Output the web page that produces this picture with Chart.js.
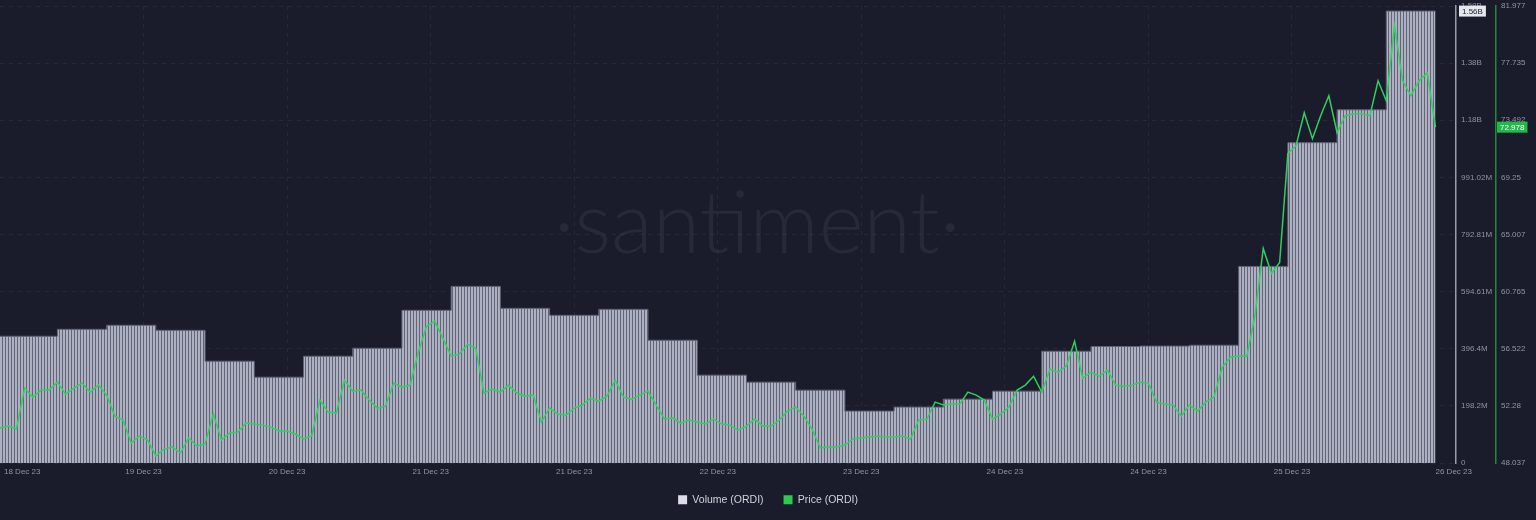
<!DOCTYPE html>
<html>
<head>
<meta charset="utf-8">
<title>ORDI volume and price</title>
<script src="https://cdn.jsdelivr.net/npm/chart.js@4.4.1/dist/chart.umd.min.js"></script>
<style>
  html, body { margin: 0; padding: 0; background: #1a1c2b; }
  #wrap { width: 1536px; height: 520px; }
</style>
</head>
<body>
<div id="wrap"><canvas id="chart" width="1536" height="520"></canvas></div>
<script>
// 6-hour trading volume (ORDI), oldest first
const volumeValues = [
    439.7e6, 463.9e6, 477.8e6, 460.4e6, 353.1e6, 297.7e6, 370.4e6, 398.1e6,
    529.7e6, 612.8e6, 536.6e6, 512.4e6, 533.1e6, 425.8e6, 304.7e6, 280.4e6,
    252.7e6, 180.0e6, 193.9e6, 221.6e6, 249.3e6, 387.7e6, 404.2e6, 405.6e6,
    408.5e6, 682.0e6, 1111.3e6, 1225.5e6, 1568e6
];

// hourly price (ORDI, USD), oldest first
const priceValues = [
    50.63, 50.78, 50.56, 53.60, 52.93, 53.45, 53.45, 54.04, 53.15, 53.60,
    53.97, 53.30, 53.82, 53.08, 51.52, 51.22, 49.52, 50.04, 49.74, 48.56,
    49.07, 49.22, 48.78, 49.89, 49.30, 49.45, 51.67, 49.74, 50.26, 50.33,
    51.00, 50.93, 50.85, 50.70, 50.41, 50.41, 50.19, 49.82, 50.04, 52.71,
    51.82, 51.74, 54.19, 53.37, 53.45, 52.71, 52.11, 52.26, 53.97, 53.67,
    53.82, 56.26, 58.19, 58.56, 57.30, 55.97, 56.12, 56.86, 56.56, 53.23,
    53.52, 53.30, 53.82, 53.23, 53.00, 53.08, 51.08, 52.11, 51.67, 51.59,
    52.11, 52.34, 52.85, 52.63, 53.00, 54.19, 52.93, 52.78, 53.08, 53.37,
    52.34, 51.30, 51.37, 51.00, 51.22, 51.08, 50.93, 51.30, 50.93, 50.85,
    50.48, 50.78, 51.30, 50.78, 50.78, 51.22, 51.89, 52.19, 51.52, 50.56,
    49.15, 49.22, 49.22, 49.37, 49.82, 49.89, 49.96, 50.04, 49.96, 49.96,
    50.04, 49.82, 51.22, 51.30, 52.56, 52.34, 52.41, 52.41, 53.30, 53.08,
    52.71, 51.30, 51.67, 52.19, 53.45, 53.82, 54.48, 53.30, 55.00, 54.78,
    55.23, 57.08, 54.34, 54.78, 54.48, 54.93, 53.82, 53.74, 53.82, 54.04,
    53.97, 52.56, 52.41, 52.34, 51.52, 52.34, 51.89, 52.56, 52.93, 55.15,
    55.89, 55.97, 55.97, 59.01, 63.97, 62.12, 62.93, 71.01, 71.60, 74.05,
    72.12, 73.83, 75.31, 72.57, 73.83, 73.98, 73.98, 73.83, 76.42, 74.94,
    80.50, 76.42, 75.31, 76.42, 77.01, 72.978
];

const volumeTicks = [0, 198.2e6, 396.4e6, 594.61e6, 792.81e6, 991.02e6, 1189.2e6, 1387.4e6, 1585.6e6];
const volumeTickLabels = ['0', '198.2M', '396.4M', '594.61M', '792.81M', '991.02M', '1.18B', '1.38B', '1.58B'];
const priceTicks = [48.037, 52.28, 56.522, 60.765, 65.007, 69.25, 73.492, 77.735, 81.977];
const priceTickLabels = ['48.037', '52.28', '56.522', '60.765', '65.007', '69.25', '73.492', '77.735', '81.977'];

// hours since the first price point
const dateTicks = [0, 17.5, 35, 52.5, 70, 87.5, 105, 122.5, 140, 157.5, 175];
const dateLabels = ['18 Dec 23', '19 Dec 23', '20 Dec 23', '21 Dec 23', '21 Dec 23', '22 Dec 23',
    '23 Dec 23', '24 Dec 23', '24 Dec 23', '25 Dec 23', '26 Dec 23'];

const volumePeriod = 6;     // hours per volume bucket
const volumeStart = 1;      // hour the first full bucket starts
const lastHour = priceValues.length - 1;

const bg = '#1a1c2b';
const tickColor = '#8f93a3';
const gridColor = 'rgba(120, 125, 150, 0.13)';
const priceColor = '#2fd060';

Chart.defaults.font.family = '"Liberation Sans", Arial, sans-serif';

// striped fill used by Santiment for volume bars
function stripePattern() {
    const c = document.createElement('canvas');
    c.width = 3;
    c.height = 4;
    const g = c.getContext('2d');
    g.fillStyle = '#adb0c1';
    g.fillRect(0, 0, 2, 4);
    g.fillStyle = '#636678';
    g.fillRect(2, 0, 1, 4);
    return g.createPattern(c, 'repeat');
}

const volumePoints = volumeValues.map((v, i) => ({ x: i === 0 ? 0 : volumeStart + i * volumePeriod, y: v }));
volumePoints.push({ x: lastHour, y: volumeValues[volumeValues.length - 1] });

const pricePoints = priceValues.map((v, i) => ({ x: i, y: v }));

const watermark = {
    id: 'watermark',
    beforeDatasetsDraw(chart) {
        const { ctx, chartArea } = chart;
        ctx.save();
        ctx.font = '300 86px Lato, "Open Sans", sans-serif';
        ctx.fillStyle = 'rgba(255, 255, 255, 0.06)';
        ctx.textAlign = 'center';
        ctx.textBaseline = 'alphabetic';
        ctx.fillText('·santiment·', chartArea.left + chartArea.width * 0.52, 253);
        ctx.restore();
    }
};

const dateAxisLabels = {
    id: 'dateAxisLabels',
    afterDraw(chart) {
        const { ctx, chartArea } = chart;
        const x = chart.scales.x;
        ctx.save();
        ctx.font = '8px "Liberation Sans", Arial, sans-serif';
        ctx.fillStyle = tickColor;
        ctx.textBaseline = 'middle';
        dateTicks.forEach((t, i) => {
            let px = x.getPixelForValue(t);
            if (i === 0) {
                ctx.textAlign = 'left';
                px += 4;
            } else if (i === dateTicks.length - 1) {
                ctx.textAlign = 'left';
            } else {
                ctx.textAlign = 'center';
            }
            ctx.fillText(dateLabels[i], px, chartArea.bottom + 9);
        });
        ctx.restore();
    }
};

const lastValueTags = {
    id: 'lastValueTags',
    afterDraw(chart) {
        const { ctx } = chart;
        const yVol = chart.scales.yVol;
        const yPrice = chart.scales.yPrice;
        const lastVol = volumeValues[volumeValues.length - 1];
        const lastPrice = priceValues[priceValues.length - 1];
        ctx.save();
        ctx.font = '8px "Liberation Sans", Arial, sans-serif';
        ctx.textBaseline = 'middle';
        ctx.textAlign = 'left';

        let y = yVol.getPixelForValue(lastVol);
        let txt = (Math.floor(lastVol / 1e7) / 100).toFixed(2) + 'B';
        let w = ctx.measureText(txt).width + 6;
        ctx.fillStyle = '#e6e8ef';
        ctx.fillRect(yVol.left + 3, y - 5.5, w, 11);
        ctx.fillStyle = bg;
        ctx.fillText(txt, yVol.left + 6, y + 0.5);

        y = yPrice.getPixelForValue(lastPrice);
        txt = lastPrice.toFixed(3);
        w = ctx.measureText(txt).width + 6;
        ctx.fillStyle = '#22b84a';
        ctx.fillRect(yPrice.left + 1, y - 5.5, w, 11);
        ctx.fillStyle = '#ffffff';
        ctx.fillText(txt, yPrice.left + 4, y + 0.5);
        ctx.restore();
    }
};

function fixYAxis(scale) {
    scale.width = 40;
    scale.paddingTop = 0;
    scale.paddingBottom = 0;
}

const ctx = document.getElementById('chart').getContext('2d');

new Chart(ctx, {
    type: 'line',
    data: {
        datasets: [{
            label: 'Volume (ORDI)',
            data: volumePoints,
            yAxisID: 'yVol',
            stepped: 'before',
            fill: 'origin',
            backgroundColor: stripePattern(),
            borderColor: '#5f6274',
            borderWidth: 1,
            pointRadius: 0,
            order: 2
        }, {
            label: 'Price (ORDI)',
            data: pricePoints,
            yAxisID: 'yPrice',
            borderColor: priceColor,
            backgroundColor: priceColor,
            borderWidth: 1.5,
            tension: 0,
            pointRadius: 0,
            fill: false,
            order: 1
        }]
    },
    options: {
        responsive: false,
        animation: false,
        devicePixelRatio: 1,
        layout: { padding: { top: 6, bottom: 5, left: 0, right: 0 } },
        scales: {
            x: {
                type: 'linear',
                min: 0,
                max: 177.5,
                afterBuildTicks: s => { s.ticks = dateTicks.map(v => ({ value: v })); },
                afterFit: s => { s.height = 11.5; s.paddingLeft = 0; s.paddingRight = 0; },
                ticks: { display: false },
                grid: {
                    drawTicks: false,
                    color: c => (c.index === 0 || c.index === dateTicks.length - 1) ? 'transparent' : gridColor,
                    lineWidth: 1
                },
                border: { display: false, dash: [4, 5] }
            },
            yVol: {
                type: 'linear',
                position: 'right',
                weight: 0,
                min: 0,
                max: volumeTicks[volumeTicks.length - 1],
                afterBuildTicks: s => { s.ticks = volumeTicks.map(v => ({ value: v })); },
                afterFit: fixYAxis,
                ticks: {
                    color: tickColor,
                    font: { size: 8 },
                    padding: 5,
                    callback: (v, i) => volumeTickLabels[i]
                },
                grid: { drawTicks: false, color: gridColor, lineWidth: 1 },
                border: { display: true, color: '#9a9cab', width: 1.5, dash: [4, 5] }
            },
            yPrice: {
                type: 'linear',
                position: 'right',
                weight: 1,
                min: priceTicks[0],
                max: priceTicks[priceTicks.length - 1],
                afterBuildTicks: s => { s.ticks = priceTicks.map(v => ({ value: v })); },
                afterFit: fixYAxis,
                ticks: {
                    color: tickColor,
                    font: { size: 8 },
                    padding: 5,
                    callback: (v, i) => priceTickLabels[i]
                },
                grid: { display: false, drawTicks: false },
                border: { display: true, color: '#1f8a3c', width: 1.5 }
            }
        },
        plugins: {
            legend: {
                position: 'bottom',
                maxHeight: 40.5,
                labels: {
                    color: '#d0d2dc',
                    font: { size: 10.5 },
                    boxWidth: 9,
                    boxHeight: 9,
                    padding: 20,
                    generateLabels: chart => chart.data.datasets.map((d, i) => ({
                        text: d.label,
                        fillStyle: i === 0 ? '#dcdde8' : '#2ec94f',
                        strokeStyle: i === 0 ? '#dcdde8' : '#2ec94f',
                        lineWidth: 0,
                        fontColor: '#d0d2dc',
                        hidden: false,
                        datasetIndex: i
                    }))
                }
            },
            tooltip: { enabled: false }
        }
    },
    plugins: [watermark, dateAxisLabels, lastValueTags]
});
</script>
</body>
</html>
